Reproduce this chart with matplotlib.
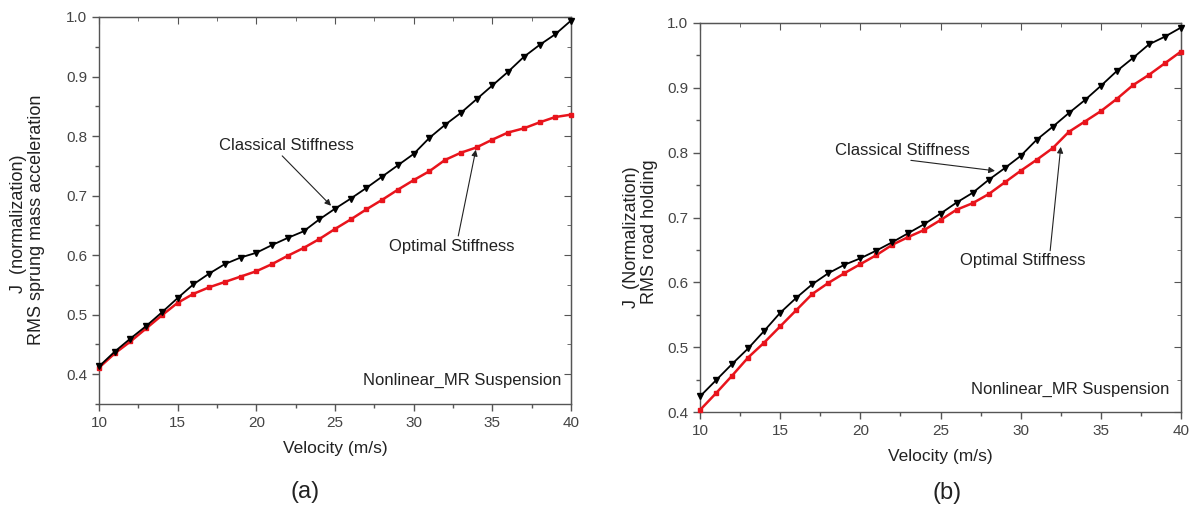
import numpy as np
import matplotlib
matplotlib.use("Agg")
import matplotlib.pyplot as plt
from matplotlib.ticker import MultipleLocator

plt.rcParams['font.family'] = ['Liberation Sans', 'DejaVu Sans']

velocity = list(range(10, 41))

# (a) RMS sprung mass acceleration
a_classical = [0.413, 0.438, 0.460, 0.481, 0.504, 0.528, 0.551, 0.569, 0.585, 0.596,
               0.604, 0.617, 0.629, 0.640, 0.660, 0.678, 0.695, 0.713, 0.732, 0.751,
               0.770, 0.797, 0.819, 0.839, 0.862, 0.885, 0.908, 0.933, 0.953, 0.971, 0.994]
a_optimal = [0.411, 0.435, 0.455, 0.477, 0.499, 0.520, 0.535, 0.546, 0.555, 0.564,
             0.573, 0.585, 0.599, 0.612, 0.627, 0.644, 0.660, 0.677, 0.693, 0.710,
             0.726, 0.741, 0.760, 0.772, 0.781, 0.794, 0.806, 0.813, 0.823, 0.832, 0.836]

# (b) RMS road holding
b_classical = [0.424, 0.449, 0.474, 0.498, 0.525, 0.553, 0.576, 0.597, 0.614, 0.627,
               0.637, 0.649, 0.662, 0.676, 0.690, 0.706, 0.723, 0.738, 0.758, 0.776,
               0.795, 0.820, 0.840, 0.861, 0.881, 0.903, 0.926, 0.946, 0.967, 0.979, 0.993]
b_optimal = [0.403, 0.429, 0.456, 0.484, 0.507, 0.532, 0.557, 0.582, 0.599, 0.614,
             0.628, 0.642, 0.658, 0.670, 0.681, 0.696, 0.712, 0.722, 0.736, 0.754,
             0.772, 0.789, 0.807, 0.832, 0.848, 0.864, 0.883, 0.904, 0.920, 0.938, 0.956]

W, H = 1198, 512
fig = plt.figure(figsize=(W / 100, H / 100), dpi=100)

def px_rect(l, r, t, b):
    return [l / W, 1 - b / H, (r - l) / W, (b - t) / H]

axA = fig.add_axes(px_rect(99, 571, 17, 404))
axB = fig.add_axes(px_rect(700, 1181, 23, 412))

spine_c = '#555555'
tick_c = '#444444'
txt_c = '#222222'

def style(ax, ylo):
    ax.set_xlim(10, 40)
    ax.set_ylim(ylo, 1.0)
    ax.xaxis.set_major_locator(MultipleLocator(5))
    ax.xaxis.set_minor_locator(MultipleLocator(2.5))
    ax.yaxis.set_minor_locator(MultipleLocator(0.05))
    ax.set_yticks([0.4, 0.5, 0.6, 0.7, 0.8, 0.9, 1.0])
    ax.yaxis.set_major_formatter(matplotlib.ticker.FormatStrFormatter('%.1f'))
    for s in ax.spines.values():
        s.set_color(spine_c)
        s.set_linewidth(1.0)
    ax.tick_params(which='both', direction='out', colors=spine_c, labelcolor=tick_c,
                   labelsize=11)
    ax.tick_params(which='major', length=5, width=1)
    ax.tick_params(which='minor', length=3, width=1)
    ax.set_xlabel('Velocity (m/s)', fontsize=12.5, color=txt_c, labelpad=8)
    # mirrored inward ticks on top/right
    sec_x = ax.secondary_xaxis('top')
    sec_x.xaxis.set_major_locator(MultipleLocator(5))
    sec_x.xaxis.set_minor_locator(MultipleLocator(2.5))
    sec_x.tick_params(which='both', direction='in', colors=spine_c, labeltop=False)
    sec_x.tick_params(which='major', length=5)
    sec_x.tick_params(which='minor', length=3)
    sec_x.spines['top'].set_color(spine_c)
    sec_y = ax.secondary_yaxis('right')
    sec_y.yaxis.set_major_locator(MultipleLocator(0.1))
    sec_y.yaxis.set_minor_locator(MultipleLocator(0.05))
    sec_y.tick_params(which='both', direction='in', colors=spine_c, labelright=False)
    sec_y.tick_params(which='major', length=5)
    sec_y.tick_params(which='minor', length=3)
    sec_y.spines['right'].set_color(spine_c)

def curves(ax, cl, op):
    ax.plot(velocity, op, color='#e8141c', lw=1.8, marker='s', ms=3.2,
            mec='#e8141c', mfc='#e8141c', zorder=3, clip_on=False)
    ax.plot(velocity, cl, color='black', lw=1.3, marker='v', ms=4,
            mec='black', mfc='black', zorder=4, clip_on=False)

arrow = dict(arrowstyle='-|>', lw=0.8, color='#222222', mutation_scale=9,
             shrinkA=0, shrinkB=0)
ann_fs = 12

# (a)
style(axA, 0.35)
curves(axA, a_classical, a_optimal)
axA.annotate('Classical Stiffness', xy=(24.75, 0.683), xytext=(21.9, 0.784),
             ha='center', va='center', fontsize=ann_fs, color=txt_c,
             arrowprops=dict(arrow, relpos=(0.45, 0.0)))
axA.annotate('Optimal Stiffness', xy=(33.95, 0.777), xytext=(32.4, 0.615),
             ha='center', va='center', fontsize=ann_fs, color=txt_c,
             arrowprops=dict(arrow, relpos=(0.55, 1.0)))
axA.text(39.4, 0.39, 'Nonlinear_MR Suspension', ha='right', va='center',
         fontsize=ann_fs, color=txt_c)

# (b)
style(axB, 0.4)
curves(axB, b_classical, b_optimal)
axB.annotate('Classical Stiffness', xy=(28.4, 0.772), xytext=(22.6, 0.804),
             ha='center', va='center', fontsize=ann_fs, color=txt_c,
             arrowprops=dict(arrow, relpos=(0.4, 0.0)))
axB.annotate('Optimal Stiffness', xy=(32.5, 0.809), xytext=(30.1, 0.633),
             ha='center', va='center', fontsize=ann_fs, color=txt_c,
             arrowprops=dict(arrow, relpos=(0.72, 1.0)))
axB.text(39.25, 0.435, 'Nonlinear_MR Suspension', ha='right', va='center',
         fontsize=ann_fs, color=txt_c)

# y labels (two lines)
def ftext(x, y, s, **kw):
    fig.text(x / W, 1 - y / H, s, **kw)

ylab_fs = 13
ftext(19, 224, 'J  (normalization)', rotation=90, ha='center', va='center',
      fontsize=ylab_fs, color=txt_c)
ftext(37, 220, 'RMS sprung mass acceleration', rotation=90, ha='center', va='center',
      fontsize=ylab_fs, color=txt_c)
ftext(632, 237, 'J  (Normalization)', rotation=90, ha='center', va='center',
      fontsize=ylab_fs, color=txt_c)
ftext(649, 232, 'RMS road holding', rotation=90, ha='center', va='center',
      fontsize=ylab_fs, color=txt_c)

ftext(305, 492, '(a)', ha='center', va='center', fontsize=17, color=txt_c)
ftext(947, 493, '(b)', ha='center', va='center', fontsize=17, color=txt_c)

fig.savefig('out.png', dpi=100, facecolor='white')
